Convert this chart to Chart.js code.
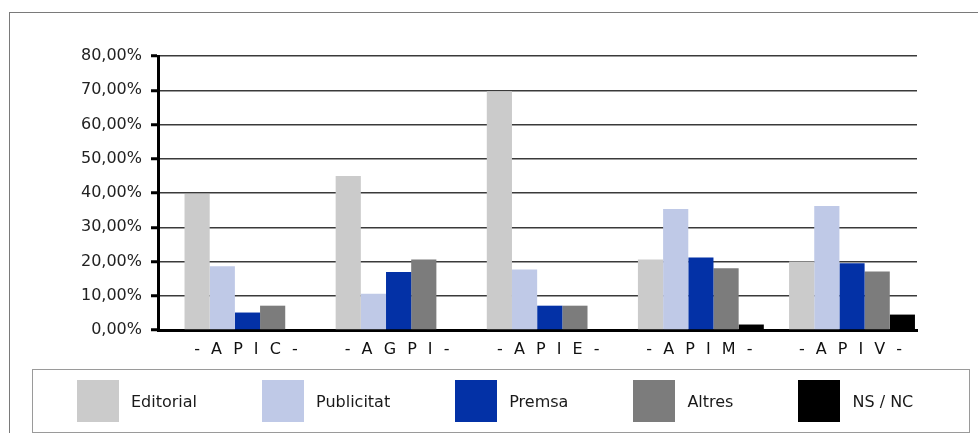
<!DOCTYPE html>
<html><head><meta charset="utf-8">
<script src="https://cdn.jsdelivr.net/npm/chart.js@4"></script>
<style>
html,body{margin:0;padding:0;background:#fff;}
#wrap{position:relative;width:978px;height:433px;overflow:hidden;background:#fff;}
#frame{position:absolute;left:9px;top:12px;width:1000px;height:500px;border-left:1px solid #7a7a7a;border-top:1px solid #7a7a7a;}
#c{position:absolute;left:0;top:0;}
#legend{position:absolute;left:32px;top:369px;width:938px;height:64px;box-sizing:border-box;border:1px solid #9a9a9a;display:flex;align-items:center;padding-left:44px;font-family:'DejaVu Sans';font-size:16px;color:#1a1a1a;white-space:nowrap;}
.item{display:flex;align-items:center;margin-right:65px;flex:none;}
.sw{width:42px;height:42px;margin-right:12px;flex:none;}
</style></head>
<body>
<div id="wrap">
  <div id="frame"></div>
  <canvas id="c" width="978" height="433"></canvas>
  <div id="legend"></div>
</div>
<script>
const categories = ['- A P I C -', '- A G P I -', '- A P I E -', '- A P I M -', '- A P I V -'];
const seriesNames = ['Editorial', 'Publicitat', 'Premsa', 'Altres', 'NS / NC'];
const editorial  = [39.7, 45.0, 69.7, 20.6, 20.0];
const publicitat = [18.6, 10.6, 17.7, 35.3, 36.2];
const premsa     = [5.1, 16.9, 7.1, 21.2, 19.5];
const altres     = [7.1, 20.6, 7.1, 18.0, 17.1];
const nsnc       = [0, 0, 0, 1.6, 4.5];
const yTicks     = [0, 10, 20, 30, 40, 50, 60, 70, 80];
const colors     = ['#cbcbcb', '#bfc9e7', '#0331a6', '#7c7c7c', '#000000'];

const seriesValues = [editorial, publicitat, premsa, altres, nsnc];

Chart.defaults.font.family = "'DejaVu Sans'";
Chart.defaults.font.size = 16;

const datasets = seriesValues.map((vals, s) => ({
  label: seriesNames[s],
  data: vals.map((v, i) => ({x: i, y: v})),
  backgroundColor: colors[s],
  borderWidth: 0,
  categoryPercentage: 0.833,
  barPercentage: 1.0
}));

const spacingPlugin = {
  id: 'xLetterSpacing',
  beforeDraw(chart) {
    const xs = chart.scales.x;
    if (xs && !xs._lsPatched) {
      const orig = xs.drawLabels;
      xs.drawLabels = function(area) {
        const ctx = this.ctx;
        ctx.save();
        ctx.letterSpacing = '3px';
        orig.call(this, area);
        ctx.restore();
      };
      xs._lsPatched = true;
    }
  }
};

const chart = new Chart(document.getElementById('c'), {
  type: 'bar',
  data: { datasets },
  options: {
    responsive: false,
    animation: false,
    layout: { padding: { left: 80, right: 61, top: 56, bottom: 73 } },
    plugins: { legend: { display: false }, tooltip: { enabled: false } },
    scales: {
      x: {
        type: 'linear',
        offset: false,
        min: -0.592,
        max: 4.43,
        afterBuildTicks(scale) { scale.ticks = categories.map((_, i) => ({ value: i })); },
        afterFit(scale) { scale.height = 30; },
        ticks: {
          autoSkip: false, maxRotation: 0, minRotation: 0, padding: 2,
          color: '#111',
          callback: (v) => categories[v] !== undefined ? categories[v] : ''
        },
        grid: { display: false, offset: false },
        border: { display: true, color: '#000', width: 3 }
      },
      y: {
        min: 0, max: 80,
        afterBuildTicks(scale) { scale.ticks = yTicks.map(v => ({ value: v })); },
        afterFit(scale) { scale.width = 78; },
        ticks: {
          padding: 9,
          color: '#222',
          callback: (v) => v.toFixed(2).replace('.', ',') + '%'
        },
        grid: { color: '#3a3a3a', lineWidth: 1.5, tickColor: '#000', tickWidth: 3, tickLength: 7, drawTicks: true },
        border: { display: true, color: '#000', width: 3 }
      }
    }
  },
  plugins: [spacingPlugin]
});

// HTML legend built from the chart's datasets
const legendEl = document.getElementById('legend');
chart.data.datasets.forEach(ds => {
  const item = document.createElement('div');
  item.className = 'item';
  const sw = document.createElement('div');
  sw.className = 'sw';
  sw.style.background = ds.backgroundColor;
  const t = document.createElement('span');
  t.textContent = ds.label;
  item.appendChild(sw); item.appendChild(t);
  legendEl.appendChild(item);
});
</script>
</body></html>
